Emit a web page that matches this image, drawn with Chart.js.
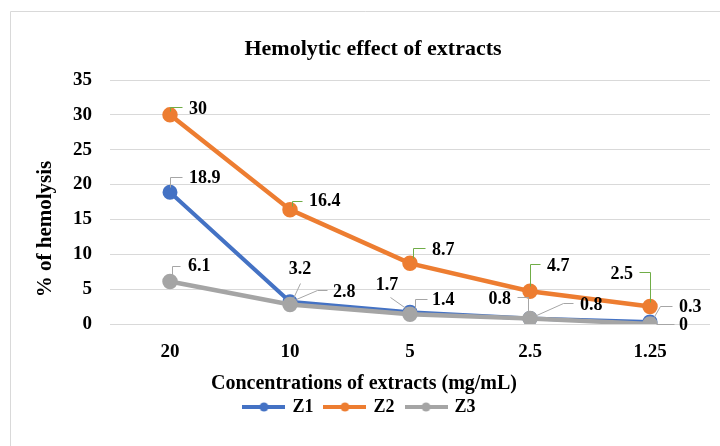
<!DOCTYPE html>
<html>
<head>
<meta charset="utf-8">
<script src="https://cdn.jsdelivr.net/npm/chart.js@4/dist/chart.umd.min.js"></script>
<style>
  html, body { margin: 0; padding: 0; background: #fff; }
  #wrap { width: 720px; height: 446px; position: relative; }
</style>
</head>
<body>
<div id="wrap"><canvas id="c" width="720" height="446"></canvas></div>
<script>
// ---- data ----
const categories = ['20', '10', '5', '2.5', '1.25'];
const seriesNames = ['Z1', 'Z2', 'Z3'];
const z1Values = [18.9, 3.2, 1.7, 0.8, 0.3];
const z2Values = [30, 16.4, 8.7, 4.7, 2.5];
const z3Values = [6.1, 2.8, 1.4, 0.8, 0];
const yMin = 0, yMax = 35, yStep = 5;

const chartTitle = 'Hemolytic effect of extracts';
const xTitle = 'Concentrations of extracts (mg/mL)';
const yTitle = '% of hemolysis';

// ---- style ----
const colors = ['#4472C4', '#ED7D31', '#A5A5A5'];
const leaderColors = ['#A6A6A6', '#70AD47', '#A6A6A6'];
const FONT = '"Liberation Serif", "Times New Roman", serif';

// label placement relative to each point: [leader polyline], text offset, align
const labelStyle = [
  [ // Z1
    {l: [[0,-5],[0,-15],[12,-15]], t: [19,-14], a: 'left'},
    {l: [[3,-4],[10,-19]], t: [10,-32], a: 'center'},
    {l: [[-3,-3],[-20,-15]], t: [-23,-27], a: 'center'},
    {l: [[-2,-5],[-2,-21],[-13,-21]], t: [-19,-19], a: 'right'},
    {l: [[3,-4],[10,-16],[22,-16]], t: [29,-15], a: 'left'}
  ],
  [ // Z2
    {l: [[0,-4],[0,-8],[12,-8]], t: [19,-6], a: 'left'},
    {l: [[2,-4],[2,-9],[12,-9]], t: [19,-8], a: 'left'},
    {l: [[3,-5],[3,-15],[15,-15]], t: [22,-13], a: 'left'},
    {l: [[0,-5],[0,-27],[10,-27]], t: [17,-25], a: 'left'},
    {l: [[0,-5],[0,-35],[-11,-35]], t: [-17,-32], a: 'right'}
  ],
  [ // Z3
    {l: [[2,-5],[2,-15],[10,-15]], t: [18,-15], a: 'left'},
    {l: [[6,-5],[27,-14],[37,-14]], t: [43,-12], a: 'left'},
    {l: [[5,-6],[5,-15],[17,-15]], t: [22,-14], a: 'left'},
    {l: [[4,-2],[33,-15],[43,-15]], t: [50,-13], a: 'left'},
    {l: [[6,0],[24,0]], t: [29,1], a: 'left'}
  ]
];

function legendSwatch(color) {
  const c = document.createElement('canvas');
  c.width = 43; c.height = 12;
  const g = c.getContext('2d');
  g.strokeStyle = color; g.lineWidth = 4; g.lineCap = 'butt';
  g.beginPath(); g.moveTo(0, 6); g.lineTo(43, 6); g.stroke();
  g.fillStyle = color;
  g.beginPath(); g.arc(21.5, 6, 4.5, 0, Math.PI * 2); g.fill();
  return c;
}
const swatches = colors.map(legendSwatch);

const framePlugin = {
  id: 'frame',
  beforeDraw(chart) {
    const ctx = chart.ctx;
    ctx.save();
    ctx.strokeStyle = '#D9D9D9';
    ctx.lineWidth = 1;
    ctx.beginPath();
    ctx.moveTo(10.5, 446); ctx.lineTo(10.5, 11.5); ctx.lineTo(720, 11.5);
    ctx.stroke();
    ctx.restore();
  }
};

const titlesPlugin = {
  id: 'titles',
  afterDraw(chart) {
    const ctx = chart.ctx;
    ctx.save();
    ctx.fillStyle = '#000';
    ctx.textAlign = 'center';
    ctx.textBaseline = 'middle';
    ctx.font = 'bold 22px ' + FONT;
    ctx.fillText(chartTitle, 373, 49);
    ctx.font = 'bold 20px ' + FONT;
    ctx.fillText(xTitle, 364, 384);
    ctx.translate(46, 229);
    ctx.rotate(-Math.PI / 2);
    ctx.font = 'bold 21px ' + FONT;
    ctx.fillText(yTitle, 0, 0);
    ctx.restore();
  }
};

const leaderLabelPlugin = {
  id: 'leaderLabels',
  afterDatasetsDraw(chart) {
    const ctx = chart.ctx;
    ctx.save();
    ctx.font = 'bold 18px ' + FONT;
    ctx.textBaseline = 'middle';
    chart.data.datasets.forEach((ds, i) => {
      const meta = chart.getDatasetMeta(i);
      meta.data.forEach((pt, j) => {
        const st = labelStyle[i][j];
        const px = pt.x, py = pt.y;
        ctx.strokeStyle = leaderColors[i];
        ctx.lineWidth = 1;
        ctx.beginPath();
        st.l.forEach((p, k) => {
          const x = Math.round(px + p[0]) + 0.5, y = Math.round(py + p[1]) + 0.5;
          if (k === 0) ctx.moveTo(x, y); else ctx.lineTo(x, y);
        });
        ctx.stroke();
        ctx.fillStyle = '#000';
        ctx.textAlign = st.a;
        ctx.fillText(String(ds.data[j]), px + st.t[0], py + st.t[1]);
      });
    });
    ctx.restore();
  }
};

const seriesData = [z1Values, z2Values, z3Values];
const datasets = seriesNames.map((name, i) => ({
  label: name,
  data: seriesData[i],
  borderColor: colors[i],
  backgroundColor: colors[i],
  pointBackgroundColor: colors[i],
  pointBorderColor: colors[i],
  borderWidth: i === 0 ? 4 : 4.5,
  pointRadius: 5.5,
  pointHoverRadius: 5.5,
  tension: 0,
  order: 3 - i
}));

new Chart(document.getElementById('c'), {
  type: 'line',
  data: { labels: categories, datasets },
  plugins: [framePlugin, titlesPlugin, leaderLabelPlugin],
  options: {
    responsive: false,
    animation: false,
    devicePixelRatio: 1,
    layout: { padding: { left: 10, right: 10, top: 80, bottom: 20 } },
    plugins: {
      title: { display: false },
      legend: {
        position: 'bottom',
        labels: {
          color: '#000',
          font: { family: FONT, size: 18, weight: 'bold' },
          usePointStyle: true,
          pointStyleWidth: 39,
          boxHeight: 12,
          padding: 12,
          sort: (a, b) => a.datasetIndex - b.datasetIndex,
          generateLabels(chart) {
            const items = Chart.defaults.plugins.legend.labels.generateLabels(chart);
            items.forEach(it => { it.pointStyle = swatches[it.datasetIndex]; });
            return items;
          }
        }
      },
      tooltip: { enabled: false }
    },
    scales: {
      x: {
        offset: true,
        grid: { display: false, drawTicks: false },
        border: { display: false },
        ticks: { color: '#000', font: { family: FONT, size: 19, weight: 'bold' }, padding: 17 },
        afterFit(scale) { scale.height = 62; }
      },
      y: {
        min: yMin, max: yMax,
        grid: { color: '#D9D9D9', lineWidth: 1, drawTicks: false },
        border: { display: false },
        ticks: { stepSize: yStep, color: '#000', font: { family: FONT, size: 19, weight: 'bold' }, padding: 18 },
        afterFit(scale) { scale.width = 100; }
      }
    }
  }
});
</script>
</body>
</html>
